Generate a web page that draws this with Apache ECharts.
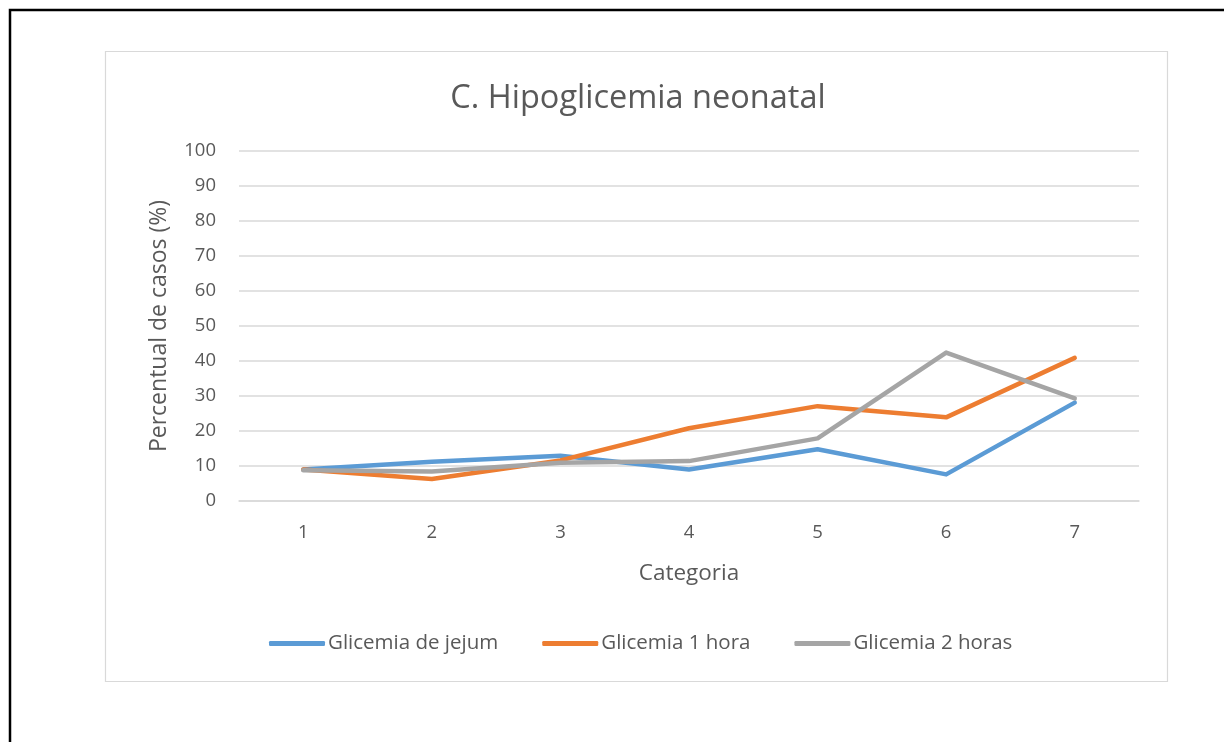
<!DOCTYPE html>
<html>
<head>
<meta charset="utf-8">
<script src="https://cdn.jsdelivr.net/npm/echarts@6/dist/echarts.min.js"></script>
<style>
  html, body { margin: 0; padding: 0; background: #fff; }
  #chart { width: 1224px; height: 742px; }
</style>
</head>
<body>
<div id="chart"></div>
<script>
// Categories and percent of cases per glycemia test
const categories = ['1', '2', '3', '4', '5', '6', '7'];
const jejum = [9.0, 11.2, 12.9, 9.0, 14.8, 7.6, 28.1];
const umaHora = [9.0, 6.3, 11.6, 20.8, 27.1, 23.9, 40.9];
const duasHoras = [8.8, 8.4, 10.9, 11.4, 17.9, 42.4, 29.3];
const seriesNames = ['Glicemia de jejum', 'Glicemia 1 hora', 'Glicemia 2 horas'];
const colors = ['#5B9BD5', '#ED7D31', '#A5A5A5'];

const font = '"Open Sans", "Noto Sans", sans-serif';
const textColor = '#595959';

const chart = echarts.init(document.getElementById('chart'), null, { renderer: 'canvas' });

function lineSeries(name, data, color) {
  return {
    name: name,
    type: 'line',
    data: data,
    symbol: 'none',
    smooth: false,
    color: color,
    lineStyle: { width: 4.5, color: color, cap: 'round', join: 'round' }
  };
}

chart.setOption({
  animation: false,
  backgroundColor: '#ffffff',
  textStyle: { fontFamily: font },
  graphic: [
    {
      type: 'rect',
      shape: { x: 10, y: 10, width: 1230, height: 760 },
      style: { fill: 'none', stroke: '#000', lineWidth: 2.5 },
      silent: true
    },
    {
      type: 'rect',
      shape: { x: 105.5, y: 51.5, width: 1062, height: 630 },
      style: { fill: 'none', stroke: '#D9D9D9', lineWidth: 1.2 },
      silent: true
    }
  ],
  title: {
    text: 'C. Hipoglicemia neonatal',
    left: 633,
    textAlign: 'center',
    top: 77,
    textStyle: { fontFamily: font, fontSize: 32.5, fontWeight: 'normal', color: textColor }
  },
  legend: {
    data: seriesNames.map(function (n) { return { name: n, icon: 'roundRect' }; }),
    top: 628,
    left: 264,
    itemWidth: 56,
    itemHeight: 5,
    itemGap: 44,
    textStyle: { fontFamily: font, fontSize: 20.5, color: textColor, padding: [0, 0, 0, -2] }
  },
  grid: { left: 239, right: 85, top: 151, bottom: 241, containLabel: false },
  xAxis: {
    type: 'category',
    data: categories,
    boundaryGap: true,
    name: 'Categoria',
    nameLocation: 'middle',
    nameGap: 61,
    nameTextStyle: { fontFamily: font, fontSize: 22.5, color: textColor },
    axisLine: { show: true, lineStyle: { color: '#D9D9D9', width: 1.5 } },
    axisTick: { show: false },
    axisLabel: { fontFamily: font, fontSize: 18.5, color: textColor, margin: 22 }
  },
  yAxis: {
    type: 'value',
    min: 0,
    max: 100,
    interval: 10,
    name: 'Percentual de casos (%)',
    nameLocation: 'middle',
    nameGap: 68,
    nameTextStyle: { fontFamily: font, fontSize: 23, color: textColor },
    axisLine: { show: false },
    axisTick: { show: false },
    axisLabel: { fontFamily: font, fontSize: 18.5, color: textColor, margin: 23 },
    splitLine: { lineStyle: { color: '#D9D9D9', width: 1.5 } }
  },
  series: [
    lineSeries(seriesNames[0], jejum, colors[0]),
    lineSeries(seriesNames[1], umaHora, colors[1]),
    lineSeries(seriesNames[2], duasHoras, colors[2])
  ]
});
</script>
</body>
</html>
